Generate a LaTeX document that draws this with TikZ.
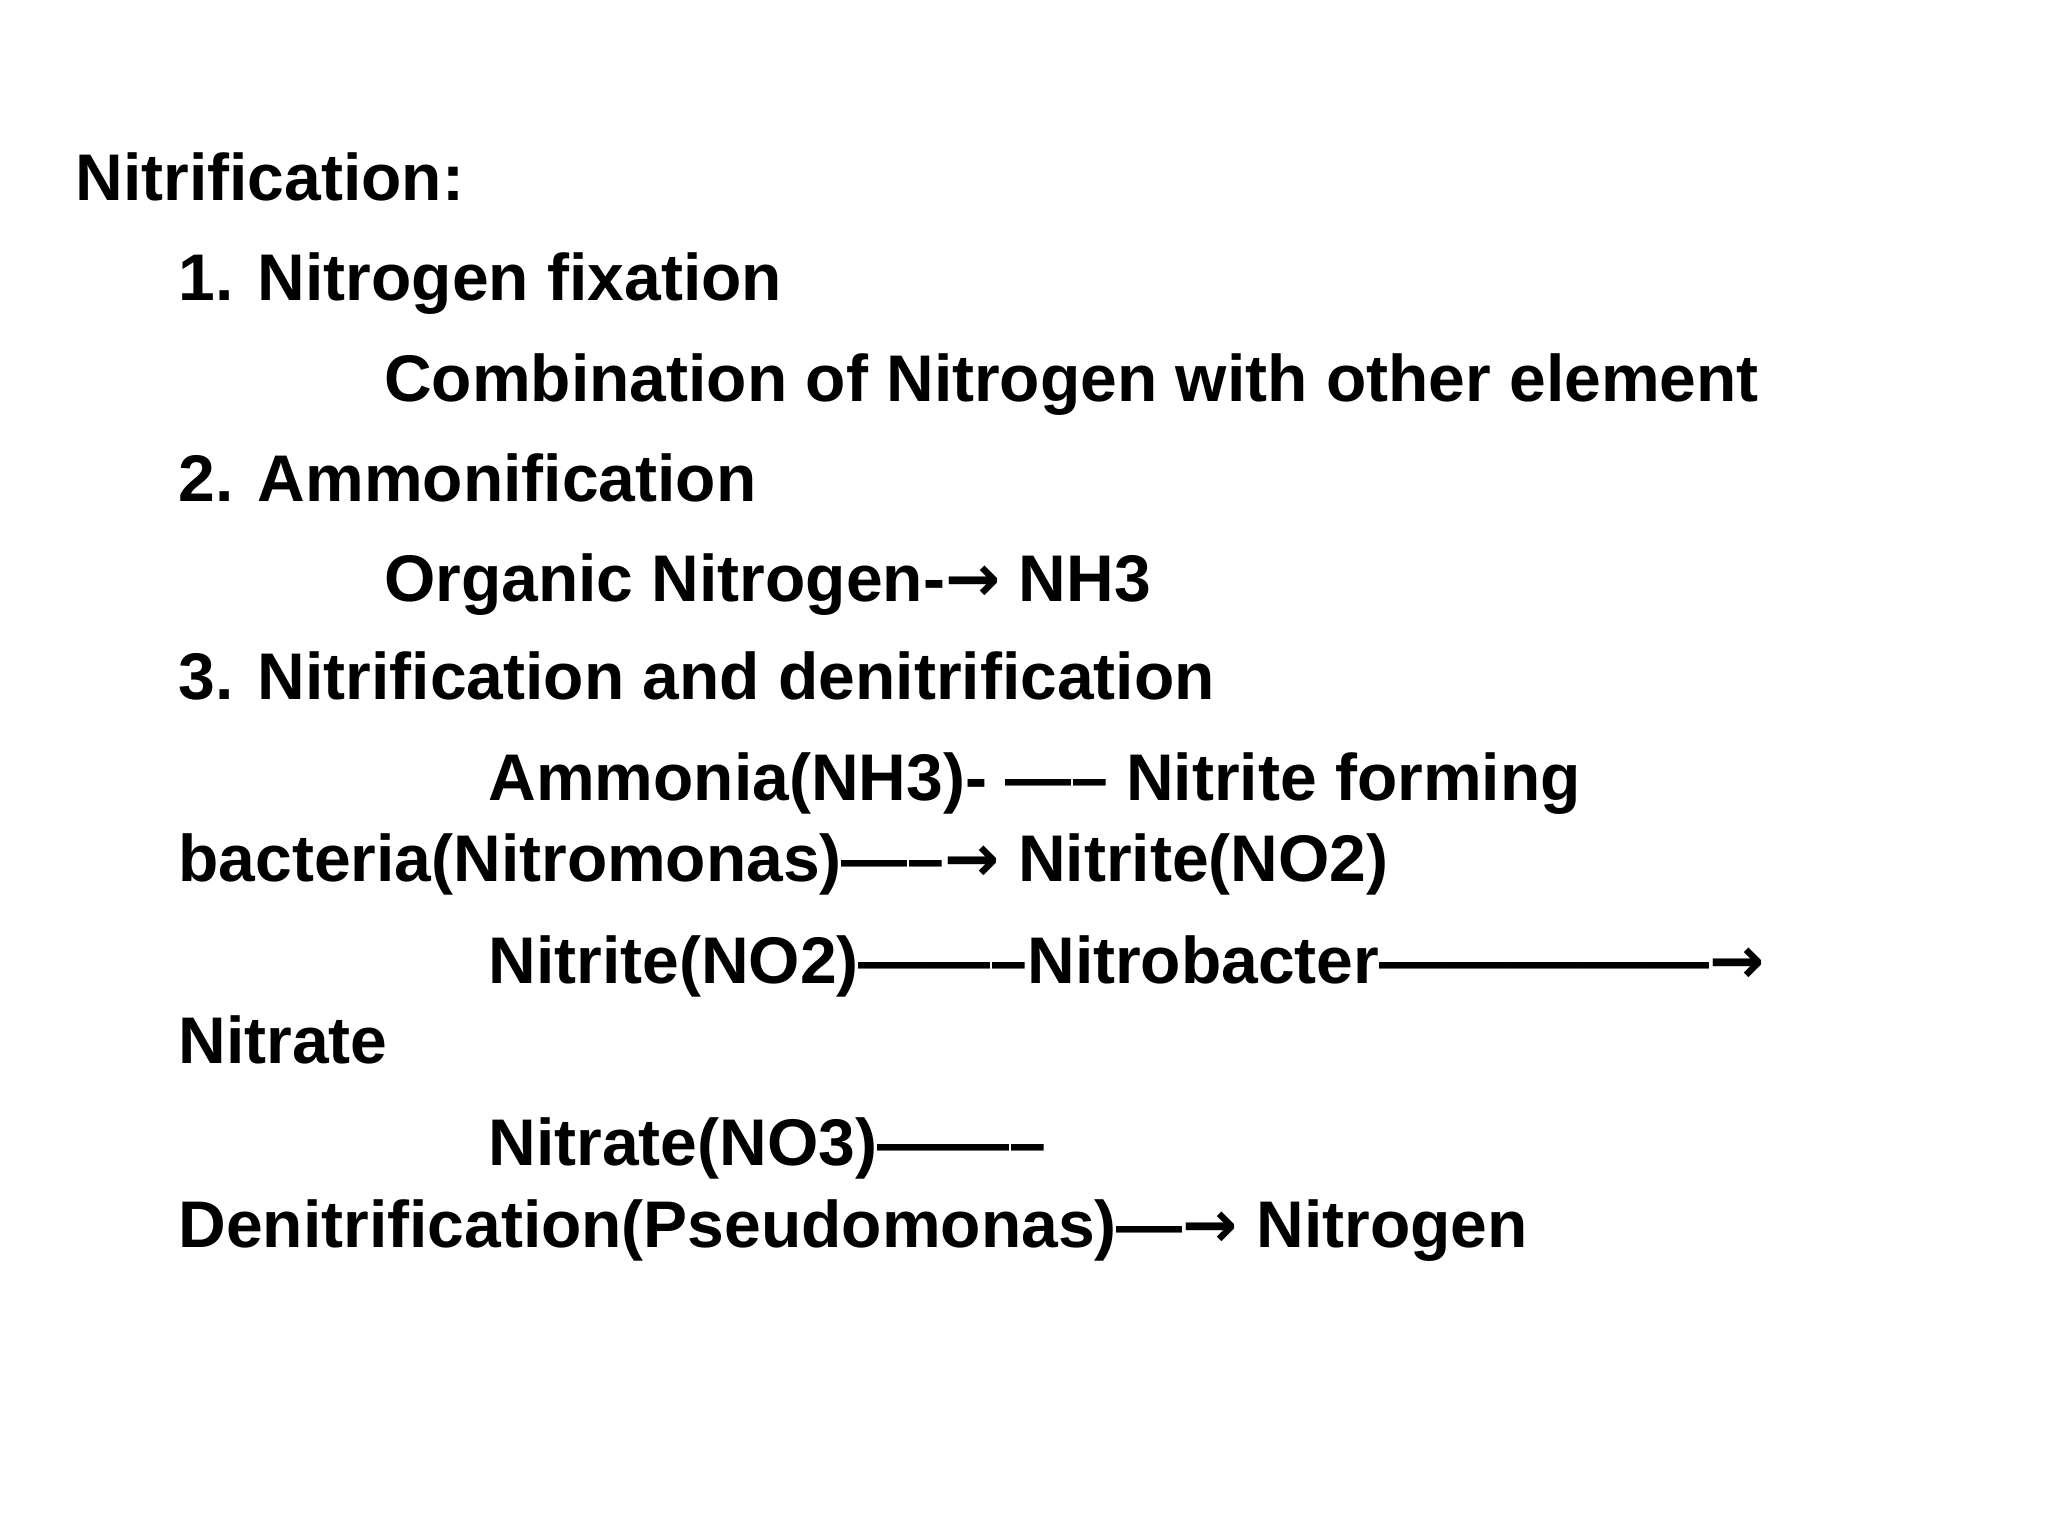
\documentclass[tikz,border=0pt]{standalone}
\usepackage{fontspec}
\setmainfont{Liberation Sans}
\newfontfamily\arrfont{DejaVu Sans}
\newcommand{\rarr}{{\arrfont\bfseries →}}
\begin{document}
\begin{tikzpicture}[x=1pt,y=-1pt,
  txt/.style={anchor=base west,inner sep=0pt,font=\fontsize{50}{60}\selectfont\bfseries}]
\useasboundingbox (0,0) rectangle (1552,1164);
\node[txt] (t0) at (57,152) {Nitrification:};
\node[txt] (t1) at (135,228) {1. Nitrogen fixation};
\node[txt] (t2) at (291,304) {Combination of Nitrogen with other element};
\node[txt] (t3) at (135,380) {2. Ammonification};
\node[txt] (t4) at (291,456) {Organic Nitrogen-\rarr\ NH3};
\node[txt] (t5) at (135,530) {3. Nitrification and denitrification};
\node[txt] (t6) at (370,607) {Ammonia(NH3)- ----- Nitrite forming};
\node[txt] (t7) at (135,668) {bacteria(Nitromonas)-----\rarr\ Nitrite(NO2)};
\node[txt] (t8) at (370,745) {Nitrite(NO2)--------Nitrobacter---------------\rarr};
\node[txt] (t9) at (135,806) {Nitrate};
\node[txt] (t10) at (370,883) {Nitrate(NO3)--------};
\node[txt] (t11) at (135,945) {Denitrification(Pseudomonas)---\rarr\ Nitrogen};
\end{tikzpicture}
\end{document}
